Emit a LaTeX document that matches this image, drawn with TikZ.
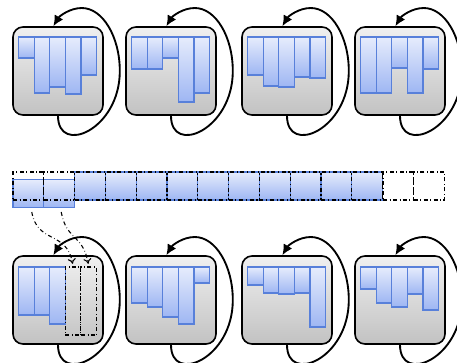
\documentclass[tikz,border=0pt]{standalone}
\usetikzlibrary{arrows.meta}

\definecolor{barTop}{RGB}{230,236,252}
\definecolor{barBot}{RGB}{158,182,243}
\definecolor{barEdge}{RGB}{88,128,218}
\definecolor{paneTop}{RGB}{240,240,240}
\definecolor{paneBot}{RGB}{194,194,194}

\begin{document}
\begin{tikzpicture}[x=0.75pt,y=-0.75pt,
  pane/.style={draw=black,line width=1.2pt,rounded corners=7.5pt,top color=paneTop,bottom color=paneBot,
    minimum width=67.5pt,minimum height=66pt,inner sep=0pt},
  bar/.style={draw=barEdge,line width=0.9pt,top color=barTop,bottom color=barBot},
  roundtrip/.style={line width=1.4pt,-{Latex[length=8pt,width=7.5pt]}},
  cell/.style={draw=barEdge,line width=0.9pt,top color=barTop,bottom color=barBot,
    minimum width=23.1pt,minimum height=21pt,inner sep=0pt},
  hole/.style={draw=black,dash dot,line width=0.8pt,minimum width=23.1pt,minimum height=21pt,inner sep=0pt},
  slot/.style={draw=black,dash dot,line width=0.8pt,minimum width=11.7pt,minimum height=51pt,inner sep=0pt},
  move/.style={draw=black,dash dot,line width=0.8pt,-{To[length=4pt,width=6pt]},shorten >=2pt,shorten <=3pt}]
  \useasboundingbox (0,0) rectangle (457,362);

  % top row
  \node[pane] (t1) at (58,71) {};
  \node[pane] (t2) at (171,71) {};
  \node[pane] (t3) at (287,71) {};
  \node[pane] (t4) at (400,71) {};

  \foreach \i/\h in {0/21,1/56,2/50,3/57,4/38}
    \draw[bar] ({18.5+15.6*\i},37) rectangle ++(15.6,\h);
  \foreach \i/\h in {0/32,1/32,2/21,3/65,4/56}
    \draw[bar] ({131.5+15.6*\i},37) rectangle ++(15.6,\h);
  \foreach \i/\h in {0/38,1/49,2/50,3/40,4/41}
    \draw[bar] ({247.5+15.6*\i},37) rectangle ++(15.6,\h);
  \foreach \i/\h in {0/56,1/56,2/31,3/56,4/32}
    \draw[bar] ({360.5+15.6*\i},37) rectangle ++(15.6,\h);

  \draw[roundtrip] (t1.south) .. controls +(0,40) and +(0,59) .. ([xshift=12pt]t1.east) .. controls +(0,-34) and +(21,0) .. ++(-38,-63) .. controls +(-12,0) and +(6,-10) .. ([xshift=-3.5pt]t1.north);
  \draw[roundtrip] (t2.south) .. controls +(0,40) and +(0,59) .. ([xshift=12pt]t2.east) .. controls +(0,-34) and +(21,0) .. ++(-38,-63) .. controls +(-12,0) and +(6,-10) .. ([xshift=-3.5pt]t2.north);
  \draw[roundtrip] (t3.south) .. controls +(0,40) and +(0,59) .. ([xshift=12pt]t3.east) .. controls +(0,-34) and +(21,0) .. ++(-38,-63) .. controls +(-12,0) and +(6,-10) .. ([xshift=-3.5pt]t3.north);
  \draw[roundtrip] (t4.south) .. controls +(0,40) and +(0,59) .. ([xshift=12pt]t4.east) .. controls +(0,-34) and +(21,0) .. ++(-38,-63) .. controls +(-12,0) and +(6,-10) .. ([xshift=-3.5pt]t4.north);

  % middle strip
  \node[cell] (m1) at (28.4,193.5) {};
  \node[cell] (m2) at (59.2,193.5) {};
  \node[hole] (c1) at (28.4,186) {};
  \node[hole] (c2) at (59.2,186) {};
  \foreach \i in {3,...,12}
    \node[cell,postaction={draw=black,dash dot,line width=0.8pt}] (c\i) at ({13+30.8*(\i-0.5)},186) {};
  \node[hole] (c13) at (398.4,186) {};
  \node[hole] (c14) at (429.2,186) {};

  % bottom row
  \node[pane] (b1) at (58,300) {};
  \node[pane] (b2) at (171,300) {};
  \node[pane] (b3) at (287,300) {};
  \node[pane] (b4) at (400,300) {};

  \foreach \i/\h in {0/48,1/48,2/57}
    \draw[bar] ({18.5+15.6*\i},267) rectangle ++(15.6,\h);
  \node[slot] (s1) at (73.1,301) {};
  \node[slot] (s2) at (88.7,301) {};
  \foreach \i/\h in {0/36,1/40,2/50,3/57,4/16}
    \draw[bar] ({131.5+15.6*\i},267) rectangle ++(15.6,\h);
  \foreach \i/\h in {0/18,1/26,2/27,3/26,4/60}
    \draw[bar] ({247.5+15.6*\i},267) rectangle ++(15.6,\h);
  \foreach \i/\h in {0/22,1/36,2/40,3/27,4/43}
    \draw[bar] ({360.5+15.6*\i},267) rectangle ++(15.6,\h);

  \draw[move] ([xshift=2pt]m1.south) to[out=-80,in=100,looseness=1.3] (s1.north);
  \draw[move] ([xshift=1pt]m2.south) to[out=-80,in=100,looseness=1.3] (s2.north);

  \draw[roundtrip] (b1.south) .. controls +(0,40) and +(0,59) .. ([xshift=12pt]b1.east) .. controls +(0,-34) and +(21,0) .. ++(-38,-63) .. controls +(-12,0) and +(6,-10) .. ([xshift=-3.5pt]b1.north);
  \draw[roundtrip] (b2.south) .. controls +(0,40) and +(0,59) .. ([xshift=12pt]b2.east) .. controls +(0,-34) and +(21,0) .. ++(-38,-63) .. controls +(-12,0) and +(6,-10) .. ([xshift=-3.5pt]b2.north);
  \draw[roundtrip] (b3.south) .. controls +(0,40) and +(0,59) .. ([xshift=12pt]b3.east) .. controls +(0,-34) and +(21,0) .. ++(-38,-63) .. controls +(-12,0) and +(6,-10) .. ([xshift=-3.5pt]b3.north);
  \draw[roundtrip] (b4.south) .. controls +(0,40) and +(0,59) .. ([xshift=12pt]b4.east) .. controls +(0,-34) and +(21,0) .. ++(-38,-63) .. controls +(-12,0) and +(6,-10) .. ([xshift=-3.5pt]b4.north);
\end{tikzpicture}
\end{document}
